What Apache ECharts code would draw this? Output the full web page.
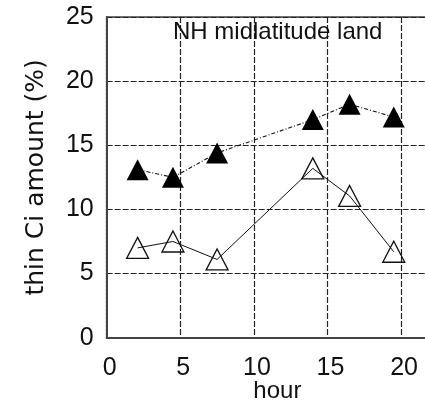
<!DOCTYPE html>
<html>
<head>
<meta charset="utf-8">
<script src="https://cdn.jsdelivr.net/npm/echarts@6/dist/echarts.min.js"></script>
<style>
html,body{margin:0;padding:0;background:#fff;}
#c{width:425px;height:404px;}
</style>
</head>
<body>
<div id="c"></div>
<script>
// Data
const hours = [2.1, 4.5, 7.5, 14.0, 16.5, 19.5];
const filledValues = [13.1, 12.5, 14.4, 17.0, 18.2, 17.2];
const openValues = [7.0, 7.5, 6.1, 13.2, 11.05, 6.7];
const xTicks = [0, 5, 10, 15, 20];
const yTicks = [0, 5, 10, 15, 20, 25];
const titleText = 'NH midlatitude land';
const xName = 'hour';
const yName = 'thin Ci amount (%)';

const FONT = '"Liberation Sans", Arial, sans-serif';
const chart = echarts.init(document.getElementById('c'), null, {renderer: 'canvas'});

const pair = (xs, ys) => xs.map((x, i) => [x, ys[i]]);

chart.setOption({
  animation: false,
  backgroundColor: '#fff',
  title: {
    text: titleText,
    left: 168, top: 15,
    textStyle: {fontFamily: FONT, fontSize: 24, fontWeight: 'normal', color: '#111'}
  },
  grid: {
    left: 106.7, top: 17, bottom: 66.3, right: -35,
    outerBoundsMode: 'none', containLabel: false,
    show: true, borderColor: '#444', borderWidth: 1.5, backgroundColor: 'transparent'
  },
  xAxis: {
    type: 'value', min: 0, max: 24, interval: 5,
    name: xName, nameLocation: 'middle', nameGap: 42, nameMoveOverlap: false,
    nameTextStyle: {fontFamily: FONT, fontSize: 24, color: '#111', padding: [0, 12, 0, 0]},
    axisLine: {show: true, lineStyle: {color: '#444', width: 2}},
    axisTick: {show: false},
    axisLabel: {
      fontFamily: FONT, fontSize: 25, color: '#111', margin: 18,
      padding: [0, 0, 0, 6],
      formatter: v => (xTicks.indexOf(v) >= 0 ? String(v) : '')
    },
    splitLine: {show: true, lineStyle: {color: '#222', width: 1.2, type: [6, 2]}}
  },
  yAxis: {
    type: 'value', min: 0, max: 25, interval: 5,
    name: yName, nameLocation: 'middle', nameGap: 58, nameRotate: 90, nameMoveOverlap: false,
    nameTextStyle: {fontFamily: '"DejaVu Sans", sans-serif', fontSize: 25, color: '#111'},
    axisLine: {show: true, lineStyle: {color: '#444', width: 2}},
    axisTick: {show: false},
    axisLabel: {
      fontFamily: FONT, fontSize: 25, color: '#111', margin: 13,
      formatter: v => (yTicks.indexOf(v) >= 0 ? String(v) : '')
    },
    splitLine: {show: true, lineStyle: {color: '#222', width: 1.2, type: [6, 2]}}
  },
  series: [
    {
      type: 'line',
      data: pair(hours, openValues),
      symbol: 'triangle', symbolSize: [22, 21],
      itemStyle: {color: 'rgba(0,0,0,0)', borderColor: '#111', borderWidth: 1.3},
      lineStyle: {color: '#111', width: 1},
      emphasis: {disabled: true},
      z: 3
    },
    {
      type: 'line',
      data: pair(hours, filledValues),
      symbol: 'triangle', symbolSize: [22, 21],
      itemStyle: {color: '#000', borderColor: '#000', borderWidth: 0},
      lineStyle: {color: '#111', width: 1.1, type: [4, 2, 1, 2]},
      emphasis: {disabled: true},
      z: 4
    }
  ]
});
</script>
</body>
</html>
